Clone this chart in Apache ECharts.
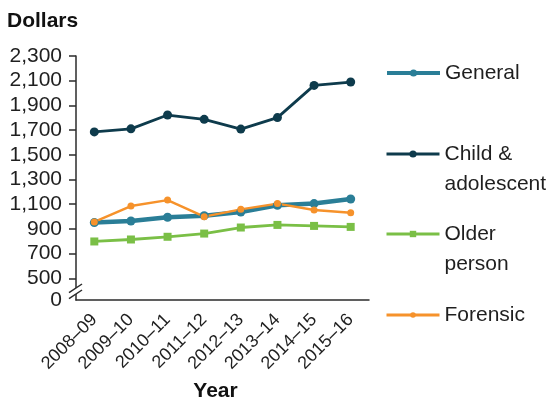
<!DOCTYPE html>
<html>
<head>
<meta charset="utf-8">
<script src="https://cdn.jsdelivr.net/npm/echarts@6/dist/echarts.min.js"></script>
<style>
  html, body { margin: 0; padding: 0; background: #fff; }
  #chart { width: 550px; height: 401px; }
</style>
</head>
<body>
<div id="chart"></div>
<script>
// Average cost per patient day, by hospital program type (dollars)
const years = ['2008–09', '2009–10', '2010–11', '2011–12', '2012–13', '2013–14', '2014–15', '2015–16'];
const general = [951, 964, 994, 1007, 1037, 1091, 1105, 1142];
const childAdolescent = [1685, 1710, 1822, 1787, 1708, 1801, 2062, 2089];
const olderPerson = [798, 814, 836, 862, 911, 932, 924, 916];
const forensic = [956, 1085, 1133, 999, 1058, 1105, 1053, 1031];
const yTicks = [0, 500, 700, 900, 1100, 1300, 1500, 1700, 1900, 2100, 2300];

// The value axis is broken between 0 and 500: the bottom of the plot
// stands for 0, and the scale is linear from AXIS_FLOOR upwards.
const AXIS_FLOOR = 324;
const AXIS_MAX = 2300;

const FONT = '"Liberation Sans", Arial, Helvetica, sans-serif';
const INK = '#1f1f1f';
const AXIS_COLOR = '#2b2b2b';
const GRID = { left: 76, right: 181, top: 56, bottom: 101 };

const seriesDefs = [
  { name: 'General', data: general, color: '#2a7e97', width: 4.5, symbol: 'circle', size: 9, legendY: 73, iconH: 9, iconLine: 4 },
  { name: 'Child & adolescent', data: childAdolescent, color: '#0e3b4c', width: 2.8, symbol: 'circle', size: 9, legendY: 154, iconH: 9, iconLine: 3 },
  { name: 'Older person', data: olderPerson, color: '#7abf46', width: 2.8, symbol: 'rect', size: 8, legendY: 234, iconH: 8, iconLine: 3 },
  { name: 'Forensic', data: forensic, color: '#f6922b', width: 2.4, symbol: 'circle', size: 7, legendY: 315, iconH: 7, iconLine: 3 }
];

const fmtThousands = v => String(v).replace(/\B(?=(\d{3})+(?!\d))/g, ',');
// Two-word names wrap onto a second line; an empty leading line keeps the
// first line level with the legend icon.
const wrapName = name => (name.indexOf(' ') >= 0 ? '\n' + name.replace(/ (\S+)$/, '\n$1') : name);
const LINE_H = 30;

const legends = seriesDefs.map(s => {
  const twoLine = s.name.indexOf(' ') >= 0;
  return {
    data: [s.name],
    left: 385,
    top: s.legendY - (twoLine ? 1.5 * LINE_H : LINE_H / 2),
    padding: 0,
    itemWidth: 53,
    itemHeight: s.iconH,
    itemGap: 5,
    selectedMode: false,
    formatter: wrapName,
    lineStyle: { width: s.iconLine },
    textStyle: {
      fontFamily: FONT,
      fontSize: 21,
      color: INK,
      lineHeight: LINE_H
    }
  };
});

const option = {
  animation: false,
  backgroundColor: '#fff',
  title: {
    text: 'Dollars',
    left: 7,
    top: 11,
    padding: 0,
    textStyle: { fontFamily: FONT, fontSize: 21, fontWeight: 'bold', color: '#111' }
  },
  legend: legends,
  grid: Object.assign({ outerBoundsMode: 'none', containLabel: false }, GRID),
  xAxis: {
    type: 'category',
    data: years,
    boundaryGap: true,
    name: 'Year',
    nameLocation: 'middle',
    nameGap: 81,
    nameMoveOverlap: false,
    nameTextStyle: { fontFamily: FONT, fontSize: 21, fontWeight: 'bold', color: '#111', padding: [0, 14, 0, 0] },
    axisLine: { lineStyle: { color: AXIS_COLOR, width: 1.5 } },
    axisTick: { alignWithLabel: true, length: 7, lineStyle: { color: AXIS_COLOR, width: 1.5 } },
    axisLabel: { rotate: 45, fontFamily: FONT, fontSize: 18, color: INK, margin: 17, interval: 0 },
    splitLine: { show: false }
  },
  yAxis: {
    type: 'value',
    min: AXIS_FLOOR,
    max: AXIS_MAX,
    axisLine: { show: true, lineStyle: { color: AXIS_COLOR, width: 1.5 } },
    axisTick: {
      show: true,
      length: 7,
      customValues: yTicks.filter(v => v >= 500),
      lineStyle: { color: AXIS_COLOR, width: 1.5 }
    },
    axisLabel: {
      customValues: yTicks.map(v => (v === 0 ? AXIS_FLOOR : v)),
      formatter: v => (v === AXIS_FLOOR ? '0' : fmtThousands(v)),
      fontFamily: FONT,
      fontSize: 21,
      color: INK,
      margin: 14
    },
    splitLine: { show: false }
  },
  series: seriesDefs.map(s => ({
    name: s.name,
    type: 'line',
    data: s.data,
    symbol: s.symbol,
    symbolSize: s.size,
    showSymbol: true,
    color: s.color,
    lineStyle: { color: s.color, width: s.width },
    itemStyle: { color: s.color },
    emphasis: { disabled: true }
  }))
};

const chart = echarts.init(document.getElementById('chart'), null, { renderer: 'canvas' });
chart.setOption(option);

// Axis-break mark "//" on the value axis between 0 and 500
const floorY = chart.convertToPixel({ yAxisIndex: 0 }, AXIS_FLOOR);
const axisX = GRID.left;
const yc = floorY - 9;
const brk = { stroke: AXIS_COLOR, lineWidth: 1.5 };
chart.setOption({
  graphic: [
    {
      type: 'polygon', z: 100,
      shape: { points: [[axisX - 6, yc + 1], [axisX + 6, yc - 7], [axisX + 6, yc - 1], [axisX - 6, yc + 7]] },
      style: { fill: '#fff' }
    },
    { type: 'line', z: 101, shape: { x1: axisX - 7, y1: yc + 1.7, x2: axisX + 6, y2: yc - 7 }, style: brk },
    { type: 'line', z: 101, shape: { x1: axisX - 7, y1: yc + 7.7, x2: axisX + 6, y2: yc - 1 }, style: brk }
  ]
});
</script>
</body>
</html>
